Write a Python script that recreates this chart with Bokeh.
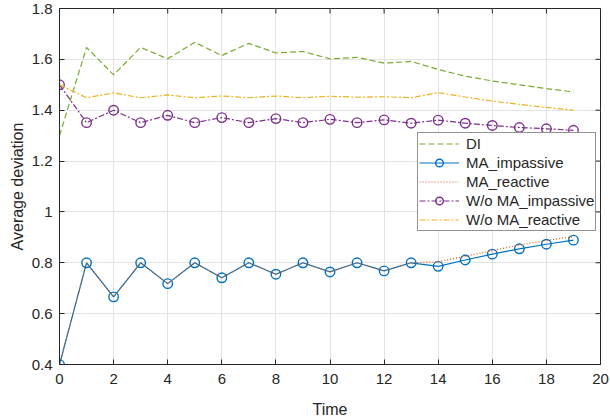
import math
from bokeh.plotting import figure
from bokeh.models import FixedTicker, NumeralTickFormatter, Range1d, Legend, LegendItem
from bokeh.embed import file_html
from bokeh.resources import INLINE

time = list(range(20))
di = [1.30, 1.647, 1.539, 1.647, 1.602, 1.667, 1.615, 1.663, 1.625, 1.631,
      1.602, 1.608, 1.585, 1.592, 1.560, 1.534, 1.515, 1.500, 1.485, 1.472]
ma_impassive = [0.40, 0.80, 0.666, 0.80, 0.718, 0.80, 0.741, 0.80, 0.755, 0.80,
                0.764, 0.80, 0.768, 0.80, 0.786, 0.811, 0.834, 0.855, 0.873, 0.889]
ma_reactive = [0.40, 0.80, 0.666, 0.80, 0.718, 0.80, 0.741, 0.80, 0.755, 0.80,
               0.764, 0.80, 0.768, 0.80, 0.804, 0.826, 0.848, 0.870, 0.888, 0.903]
wo_impassive = [1.50, 1.351, 1.40, 1.351, 1.380, 1.351, 1.371, 1.351, 1.367, 1.351,
                1.364, 1.351, 1.362, 1.349, 1.361, 1.349, 1.340, 1.332, 1.327, 1.321]
wo_reactive = [1.50, 1.449, 1.468, 1.449, 1.460, 1.449, 1.456, 1.449, 1.456, 1.449,
               1.455, 1.451, 1.453, 1.449, 1.469, 1.452, 1.436, 1.423, 1.411, 1.400]
x_ticks = list(range(0, 21, 2))
y_ticks = [0.4, 0.6, 0.8, 1.0, 1.2, 1.4, 1.6, 1.8]
X_MAX = 20
Y_MAX = 1.8

FONT = "Liberation Sans"
AX = "#262626"

p = figure(width=610, height=420, output_backend="svg", toolbar_location=None,
           x_range=Range1d(0, X_MAX), y_range=Range1d(0.4, Y_MAX),
           min_border_left=59, min_border_right=10, min_border_top=8, min_border_bottom=10)
p.background_fill_color = "white"
p.border_fill_color = "white"
p.outline_line_color = AX
p.outline_line_width = 1

for ax in (p.xaxis[0], p.yaxis[0]):
    ax.major_tick_in = 5
    ax.major_tick_out = 0
    ax.minor_tick_line_color = None
    ax.axis_line_color = AX
    ax.major_tick_line_color = AX
    ax.major_label_text_font = FONT
    ax.major_label_text_font_size = "15px"
    ax.major_label_text_color = AX
    ax.axis_label_text_font = FONT
    ax.axis_label_text_font_size = "16px"
    ax.axis_label_text_font_style = "normal"
    ax.axis_label_text_color = AX

p.xaxis[0].ticker = FixedTicker(ticks=x_ticks)
p.yaxis[0].ticker = FixedTicker(ticks=y_ticks)
p.yaxis[0].formatter = NumeralTickFormatter(format="0.[0]")
p.xaxis[0].axis_label = "Time"
p.yaxis[0].axis_label = "Average deviation"
p.xaxis[0].major_label_standoff = 9
p.yaxis[0].major_label_standoff = 7
p.xaxis[0].axis_label_standoff = 14
p.yaxis[0].axis_label_standoff = 3

p.xgrid.ticker = FixedTicker(ticks=x_ticks)
p.ygrid.ticker = FixedTicker(ticks=y_ticks)
p.grid.grid_line_color = "#e3e3e3"
p.grid.grid_line_width = 1

# inward ticks on top and right frame edges (clipped to the frame)
p.scatter(x_ticks, [Y_MAX] * len(x_ticks), marker="dash", size=10, angle=math.pi / 2,
          line_color=AX, line_width=1)
p.scatter([X_MAX] * len(y_ticks), y_ticks, marker="dash", size=10,
          line_color=AX, line_width=1)

blue = "#0072BD"
red = "#D95319"
yellow = "#EDB120"
purple = "#7E2F8E"
green = "#77AC30"
LW = 1.2

r_di = p.line(time, di, color=green, line_width=LW, line_dash="6 3")
r_mi = p.line(time, ma_impassive, color=blue, line_width=LW)
s_mi = p.scatter(time, ma_impassive, marker="circle", size=9.5, line_color=blue,
                 fill_alpha=0, line_width=1.4)
r_mr = p.line(time, ma_reactive, color=red, line_width=LW, line_dash="1 2")
r_wi = p.line(time, wo_impassive, color=purple, line_width=LW, line_dash="6 2 2 2")
s_wi = p.scatter(time, wo_impassive, marker="circle", size=9.5, line_color=purple,
                 fill_alpha=0, line_width=1.4)
r_wr = p.line(time, wo_reactive, color=yellow, line_width=LW, line_dash="6 2 2 2")

legend = Legend(items=[
    LegendItem(label="DI", renderers=[r_di]),
    LegendItem(label="MA_impassive", renderers=[r_mi, s_mi]),
    LegendItem(label="MA_reactive", renderers=[r_mr]),
    LegendItem(label="W/o MA_impassive", renderers=[r_wi, s_wi]),
    LegendItem(label="W/o MA_reactive", renderers=[r_wr]),
], location=(358, 133))
legend.label_text_font = FONT
legend.label_text_font_size = "15px"
legend.label_text_color = AX
legend.glyph_width = 40
legend.glyph_height = 19
legend.label_height = 19
legend.spacing = 0
legend.padding = 1
legend.margin = 0
legend.label_standoff = 7
legend.border_line_color = AX
legend.border_line_width = 1
legend.background_fill_alpha = 1
p.add_layout(legend, "center")

open("out.html", "w").write(file_html(p, INLINE))
